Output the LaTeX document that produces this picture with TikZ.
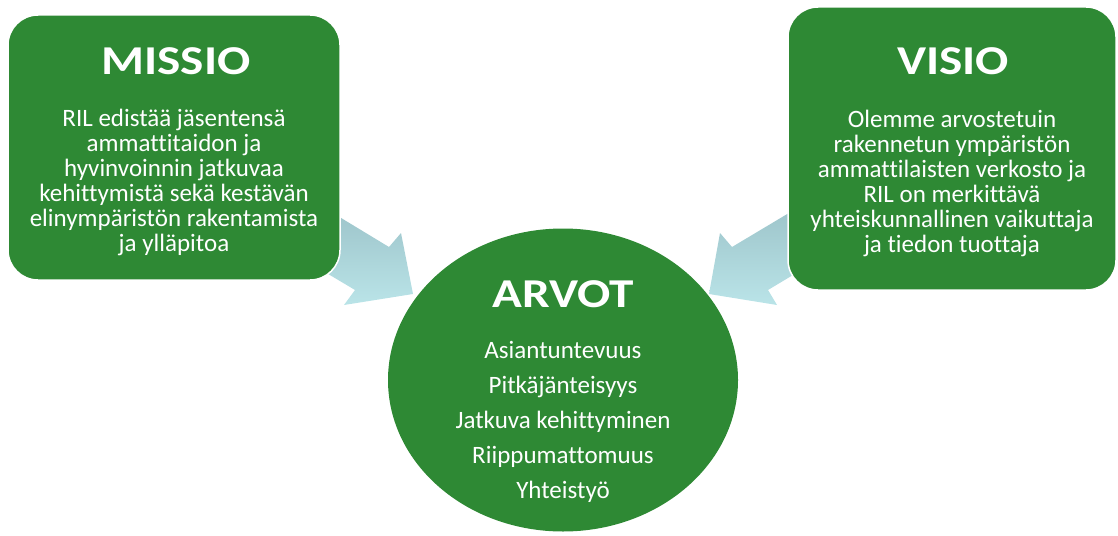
\documentclass[tikz,border=0pt]{standalone}
\usepackage{fontspec}
\setmainfont{Carlito}[Ligatures=NoCommon]
\usetikzlibrary{shapes.geometric}
\definecolor{rilgreen}{RGB}{46,137,52}
\definecolor{arrowtop}{RGB}{155,194,200}
\definecolor{arrowbottom}{RGB}{186,228,232}
\tikzset{
  greenbox/.style={draw=white, line width=1.5pt, fill=rilgreen, rounded corners=30pt, inner sep=0pt},
  titletext/.style={text=white, font=\fontsize{41}{41}\selectfont\bfseries, anchor=base, inner sep=0pt},
  bodytext/.style={text=white, font=\fontsize{25}{25}\selectfont, align=center, anchor=north, inner sep=0pt},
  valuetext/.style={text=white, font=\fontsize{25}{35}\selectfont, align=center, anchor=north, inner sep=0pt},
  blockarrow/.style={top color=arrowtop, bottom color=arrowbottom, draw=none},
}
\newcommand\widetitle[1]{\scalebox{1.2}[1]{#1}}
\newcommand\firstlinestrut{\rule{0pt}{20pt}}
\begin{document}
\begin{tikzpicture}[x=1pt,y=-1pt]
\useasboundingbox (0,0) rectangle (1118,535);
% block arrows (behind the boxes)
\shade[blockarrow] (318,204) -- (389,247) -- (401,233) -- (413,294) -- (344,305) -- (355,290) -- (308,262) -- cycle;
\shade[blockarrow] (809,201) -- (732,247) -- (720,233) -- (709,294) -- (777,305) -- (768,290) -- (813,263) -- cycle;
% boxes and circle
\node[greenbox, minimum width=332pt, minimum height=265pt] (missio) at (174,147.5) {};
\node[greenbox, minimum width=328pt, minimum height=283pt] (visio) at (952,148.5) {};
\node[ellipse, fill=rilgreen, minimum width=350pt, minimum height=303pt, inner sep=0pt] (arvot) at (563,380) {};
% texts
\node[titletext] (missiotitle) at (176,74.3) {\widetitle{MISSIO}};
\node[bodytext] (missiobody) at (174,106) {\firstlinestrut RIL edistää jäsentensä\\ammattitaidon ja\\hyvinvoinnin jatkuvaa\\kehittymistä sekä kestävän\\elinympäristön rakentamista\\ja ylläpitoa};
\node[titletext] (visiotitle) at (953,74.3) {\widetitle{VISIO}};
\node[bodytext] (visiobody) at (952,107) {\firstlinestrut Olemme arvostetuin\\rakennetun ympäristön\\ammattilaisten verkosto ja\\RIL on merkittävä\\yhteiskunnallinen vaikuttaja\\ja tiedon tuottaja};
\node[titletext] (arvottitle) at (563.5,307) {\widetitle{ARVOT}};
\node[valuetext] (arvotbody) at (563,338) {\firstlinestrut Asiantuntevuus\\Pitkäjänteisyys\\Jatkuva kehittyminen\\Riippumattomuus\\Yhteistyö};
\end{tikzpicture}
\end{document}
